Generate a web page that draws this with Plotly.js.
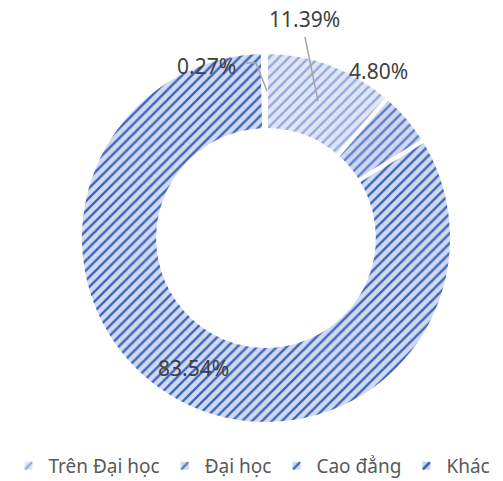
<!DOCTYPE html>
<html><head><meta charset="utf-8">
<script src="https://cdn.plot.ly/plotly-3.0.1.min.js"></script>
<style>html,body{margin:0;padding:0;background:#fff}</style>
</head><body>
<div id="chart" style="width:503px;height:481px"></div>
<script>
const categories = ['Trên Đại học', 'Đại học', 'Cao đẳng', 'Khác'];
const values = [11.39, 4.80, 83.54, 0.27];
const labelText = values.map(v => v.toFixed(2) + '%');
const bgColors = ['#e0e6f5', '#cfd8f0', '#d0daf1', '#c8d3ee'];
const fgColors = ['#95a9dd', '#5a7ccd', '#3d63bc', '#2f55a6'];

// plot area spans full width; rows 52..424 (372px tall)
const W = 503, H = 481, T = 52, B = 57, S = H - T - B;
const px = x => x / W;
const py = y => (H - B - y) / S;

const trace = {
  type: 'pie',
  labels: categories,
  values: values,
  hole: 0.58,
  sort: false,
  direction: 'clockwise',
  rotation: 0,
  textinfo: 'none',
  hoverinfo: 'label+percent',
  domain: {x: [80 / W, (80 + S) / W], y: [0, 1]},
  marker: {
    colors: bgColors,
    line: {color: '#ffffff', width: 4},
    pattern: {shape: '/', bgcolor: bgColors, fgcolor: fgColors, size: 7, solidity: 0.33, fillmode: 'replace'}
  }
};

const labelPos = [[304, 19], [378, 71], [193, 368], [206, 66]];
const annFont = {family: 'Noto Sans, sans-serif', size: 21, color: '#404040'};
const annotations = labelText.map((t, i) => ({
  text: t, xref: 'paper', yref: 'paper',
  x: px(labelPos[i][0]), y: py(labelPos[i][1]),
  xanchor: 'center', yanchor: 'middle', showarrow: false, font: annFont
}));

const shapes = [
  {type: 'path', xref: 'paper', yref: 'paper',
   path: `M ${px(305)} ${py(37)} L ${px(318)} ${py(101)}`,
   line: {color: '#a6a6a6', width: 1.5}},
  {type: 'path', xref: 'paper', yref: 'paper',
   path: `M ${px(245)} ${py(63)} L ${px(256)} ${py(63)} L ${px(267)} ${py(91)}`,
   line: {color: '#a6a6a6', width: 1.5}}
];

const layout = {
  width: W, height: H,
  margin: {l: 0, r: 0, t: T, b: B},
  paper_bgcolor: '#ffffff',
  showlegend: true,
  legend: {
    orientation: 'h', x: 252 / W, xanchor: 'center',
    yref: 'container', y: (H - 466) / H, yanchor: 'middle',
    font: {family: 'Noto Sans, sans-serif', size: 19, color: '#595959'},
    traceorder: 'normal'
  },
  annotations: annotations,
  shapes: shapes
};

Plotly.newPlot('chart', [trace], layout, {displayModeBar: false, staticPlot: true});
</script>
</body></html>
